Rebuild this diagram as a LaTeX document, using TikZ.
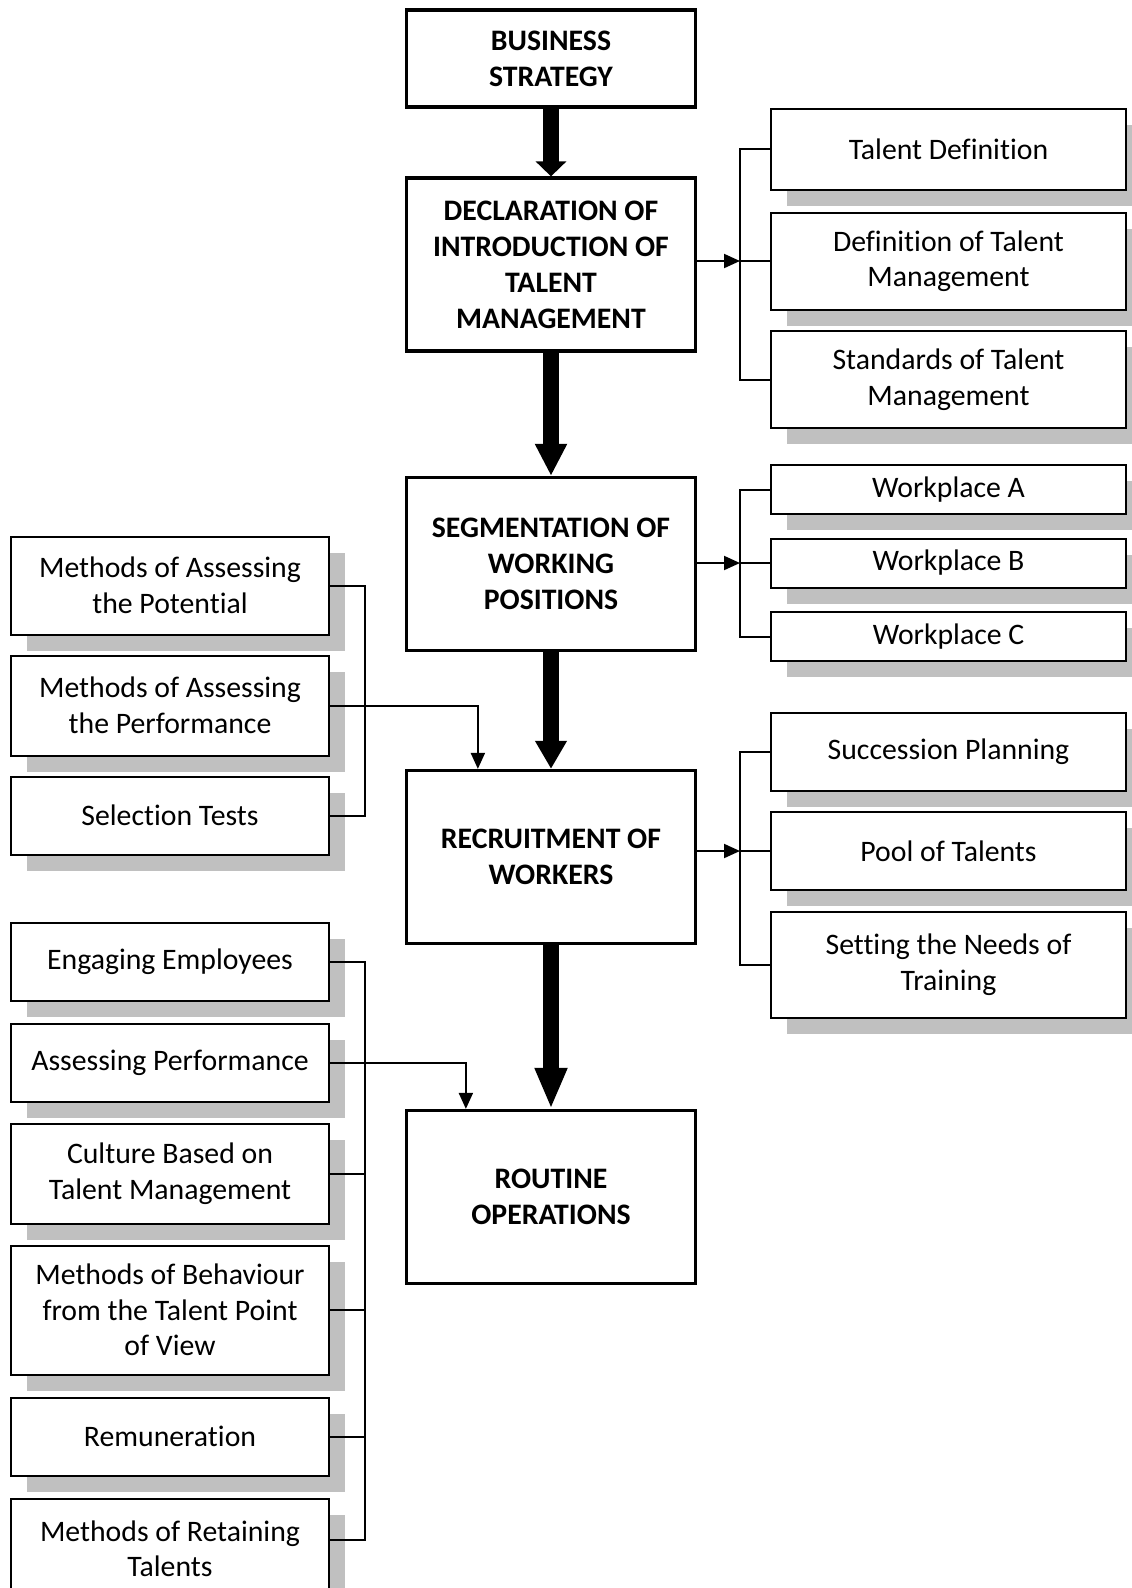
\documentclass[tikz,border=0pt]{standalone}
\usepackage{fontspec}
\setmainfont[Ligatures=NoCommon]{Carlito}
\usetikzlibrary{arrows.meta,shadows,calc}
\definecolor{shadowgray}{RGB}{192,192,192}

\begin{document}
\begin{tikzpicture}[x=0.4pt,y=-0.4pt,
  mainbox/.style={draw,line width=1.3pt,fill=white,align=center,inner sep=0pt,minimum width=115.6pt,minimum height=69.2pt,font=\fontsize{11.9}{14.4}\selectfont\bfseries},
  sidebox/.style={draw,line width=0.8pt,fill=white,align=center,inner sep=0pt,minimum width=142pt,font=\fontsize{11.9}{14.2}\selectfont,drop shadow={shadow xshift=6.4pt,shadow yshift=-6.4pt,fill=shadowgray,opacity=1}},
  leftbox/.style={sidebox,minimum width=127.2pt},
  bigarrow/.style={line width=6.4pt,-{Triangle[length=#1,width=12pt]}},
  link/.style={line width=0.8pt},
  linkarrow/.style={line width=0.8pt,-{Triangle[length=6.4pt,width=5.6pt]}}]

\useasboundingbox (0,0) rectangle (1132,1588);
\clip (0,0) rectangle (1132,1588);

% Main chain
\node (business) at (551,58.5) [mainbox,minimum height=38.8pt] {BUSINESS\\STRATEGY};
\node (decl) at (551,264.5) [mainbox] {DECLARATION OF\\INTRODUCTION OF\\TALENT\\MANAGEMENT};
\node (segment) at (551,564) [mainbox] {SEGMENTATION OF\\WORKING\\POSITIONS};
\node (recruit) at (551,857) [mainbox] {RECRUITMENT OF\\WORKERS};
\node (routine) at (551,1197) [mainbox] {ROUTINE\\OPERATIONS};
\draw[bigarrow=6pt] (business.south) -- (decl.north);
\draw[bigarrow=12.8pt] (decl.south) -- (segment.north);
\draw[bigarrow=11.2pt] (segment.south) -- (recruit.north);
\draw[bigarrow=16.4pt] (recruit.south) -- (routine.north);


% Declaration details
\node (talentdef) at (948.5,149) [sidebox,minimum height=32.4pt] {Talent Definition};
\node (deftm) at (948.5,261) [sidebox,minimum height=38.8pt] {Definition of Talent\\Management};
\node (stdtm) at (948.5,379.5) [sidebox,minimum height=38.8pt] {Standards of Talent\\Management};
\coordinate (jdecl) at ($(deftm.west)+(-30,0)$);
\draw[linkarrow] (decl.east |- jdecl) -- (jdecl);
\draw[link] (talentdef.west) -| (jdecl) |- (stdtm.west);
\draw[link] (jdecl) -- (deftm.west);


% Workplaces
\node (wpa) at (948.5,489.5) [sidebox,minimum height=19.6pt] {Workplace A};
\node (wpb) at (948.5,563) [sidebox,minimum height=19.6pt] {Workplace B};
\node (wpc) at (948.5,636.5) [sidebox,minimum height=19.6pt] {Workplace C};
\coordinate (jseg) at ($(wpb.west)+(-30,0)$);
\draw[linkarrow] (segment.east |- jseg) -- (jseg);
\draw[link] (wpa.west) -| (jseg) |- (wpc.west);
\draw[link] (jseg) -- (wpb.west);


% Recruitment outputs
\node (succession) at (948.5,751.5) [sidebox,minimum height=31.2pt] {Succession Planning};
\node (pool) at (948.5,851) [sidebox,minimum height=31.2pt] {Pool of Talents};
\node (needs) at (948.5,964.5) [sidebox,minimum height=42.4pt] {Setting the Needs of\\Training};
\coordinate (jrec) at ($(pool.west)+(-30,0)$);
\draw[linkarrow] (recruit.east |- jrec) -- (jrec);
\draw[link] (succession.west) -| (jrec) |- (needs.west);
\draw[link] (jrec) -- (pool.west);


% Recruitment inputs
\node (potential) at (170,585.5) [leftbox,minimum height=39.2pt] {Methods of Assessing\\the Potential};
\node (perf) at (170,705.5) [leftbox,minimum height=40pt] {Methods of Assessing\\the Performance};
\node (seltest) at (170,815.5) [leftbox,minimum height=31.2pt] {Selection Tests};
\coordinate (jperf) at ($(perf.east)+(35,0)$);
\draw[link] (potential.east) -| (jperf) |- (seltest.east);
\draw[linkarrow] (perf.east) -| ($(recruit.north west)+(73,0)$);


% Routine operations inputs
\node (engage) at (170,961.5) [leftbox,minimum height=31.2pt] {Engaging Employees};
\node (assess) at (170,1062.5) [leftbox,minimum height=31.2pt] {Assessing Performance};
\node (culture) at (170,1173.5) [leftbox,minimum height=40pt] {Culture Based on\\Talent Management};
\node (behave) at (170,1310) [leftbox,minimum height=51.6pt] {Methods of Behaviour\\from the Talent Point\\of View};
\node (remun) at (170,1436.5) [leftbox,minimum height=31.2pt] {Remuneration};
\node (retain) at (170,1549) [leftbox,minimum height=40pt] {Methods of Retaining\\Talents};
\coordinate (jret) at ($(retain.east)+(35,-9)$);
\draw[link] (engage.east) -| (jret) -- ($(retain.east)+(0,-9)$);
\draw[link] (culture.east) -- (culture.east -| jret);
\draw[link] (behave.east) -- (behave.east -| jret);
\draw[link] (remun.east) -- (remun.east -| jret);
\draw[linkarrow] (assess.east) -| ($(routine.north west)+(61,0)$);

\end{tikzpicture}
\end{document}
